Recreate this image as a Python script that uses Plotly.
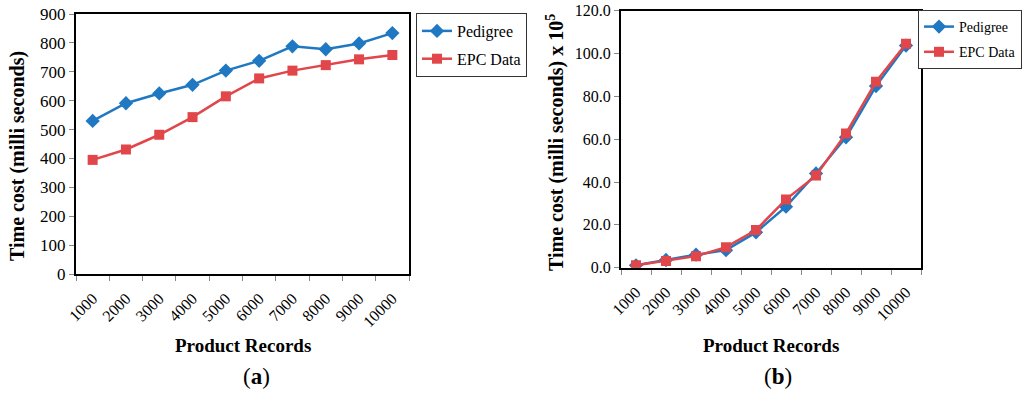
import plotly.graph_objects as go

records = ["1000", "2000", "3000", "4000", "5000", "6000", "7000", "8000", "9000", "10000"]
ped_a = [530, 591, 625, 655, 704, 738, 788, 778, 798, 834]
epc_a = [395, 431, 482, 543, 615, 677, 704, 723, 743, 758]
ped_b = [1.1, 3.6, 6.1, 8.2, 16.5, 28.5, 44.0, 60.9, 84.8, 103.7]
epc_b = [1.1, 3.1, 5.4, 9.6, 17.6, 31.9, 43.0, 62.7, 86.8, 104.6]

BLUE = "#1F78C1"
RED = "#E0464A"
SERIF = "Liberation Serif"
W, H = 1024, 393

fig = go.Figure()
for xa, ya, lg, ped, epc in [("x", "y", "legend", ped_a, epc_a), ("x2", "y2", "legend2", ped_b, epc_b)]:
    fig.add_trace(go.Scatter(x=records, y=ped, name="Pedigree", mode="lines+markers",
                             line=dict(color=BLUE, width=2.5), legendgroup=lg + "p",
                             marker=dict(symbol="diamond", size=11, color=BLUE),
                             xaxis=xa, yaxis=ya, legend=lg))
    fig.add_trace(go.Scatter(x=records, y=epc, name="EPC Data", mode="lines+markers",
                             line=dict(color=RED, width=2.5), legendgroup=lg + "e",
                             marker=dict(symbol="square", size=10, color=RED),
                             xaxis=xa, yaxis=ya, legend=lg))

xcommon = dict(type="category", range=[-0.5, 9.5], tickangle=-45, tickson="boundaries",
               ticks="outside", ticklen=5, tickcolor="#888888", showgrid=False,
               showline=True, linecolor="black", linewidth=2, mirror=True, automargin=False,
               ticklabelstandoff=7,
               tickfont=dict(family=SERIF, size=16, color="black"), zeroline=False)
ycommon = dict(ticks="outside", ticklen=5, tickcolor="#888888", showgrid=False,
               showline=True, linecolor="black", linewidth=2, mirror=True, automargin=False,
               zeroline=False)

def px(x):
    return x / W

def py(y):
    return 1 - y / H

legcommon = dict(yanchor="top", bordercolor="#333333", borderwidth=1,
                 bgcolor="white", itemwidth=30, tracegroupgap=4)

fig.update_layout(
    width=W, height=H, margin=dict(l=0, r=0, t=0, b=0),
    paper_bgcolor="white", plot_bgcolor="white",
    xaxis=dict(domain=[px(76), px(409)], anchor="y", **xcommon),
    yaxis=dict(domain=[py(274), py(14)], anchor="x", range=[0, 900], dtick=100,
               tickfont=dict(family=SERIF, size=17, color="black"), **ycommon),
    xaxis2=dict(domain=[px(621), px(921)], anchor="y2", **xcommon),
    yaxis2=dict(domain=[py(267.7), py(10.7)], anchor="x2", range=[0, 120], dtick=20, tickformat=".1f",
                tickfont=dict(family=SERIF, size=16, color="black"), **ycommon),
    legend=dict(x=px(416), xanchor="left", y=py(13),
                font=dict(family=SERIF, size=16, color="black"), **legcommon),
    legend2=dict(x=px(1022), xanchor="right", y=py(10),
                 font=dict(family=SERIF, size=14, color="black"), **legcommon),
    showlegend=True,
)

annots = [
    ("<b>Time cost (milli seconds)</b>", 17, 156, 20, -90),
    ("<b>Time cost (milli seconds) x 10<sup>5</sup></b>", 555, 143, 20, -90),
    ("<b>Product Records</b>", 242.5, 345, 19, 0),
    ("(<b>a</b>)", 256, 376, 23, 0),
    ("<b>Product Records</b>", 771, 345, 19, 0),
    ("(<b>b</b>)", 778, 376, 23, 0),
]
for text, x, y, size, ang in annots:
    fig.add_annotation(text=text, x=px(x), y=py(y), xref="paper", yref="paper",
                       xanchor="center", yanchor="middle", textangle=ang, showarrow=False,
                       font=dict(family=SERIF, size=size, color="black"))

fig.write_html("out.html", config={"displayModeBar": False},
               post_script="document.body.style.margin='0';document.body.style.overflow='hidden';")
